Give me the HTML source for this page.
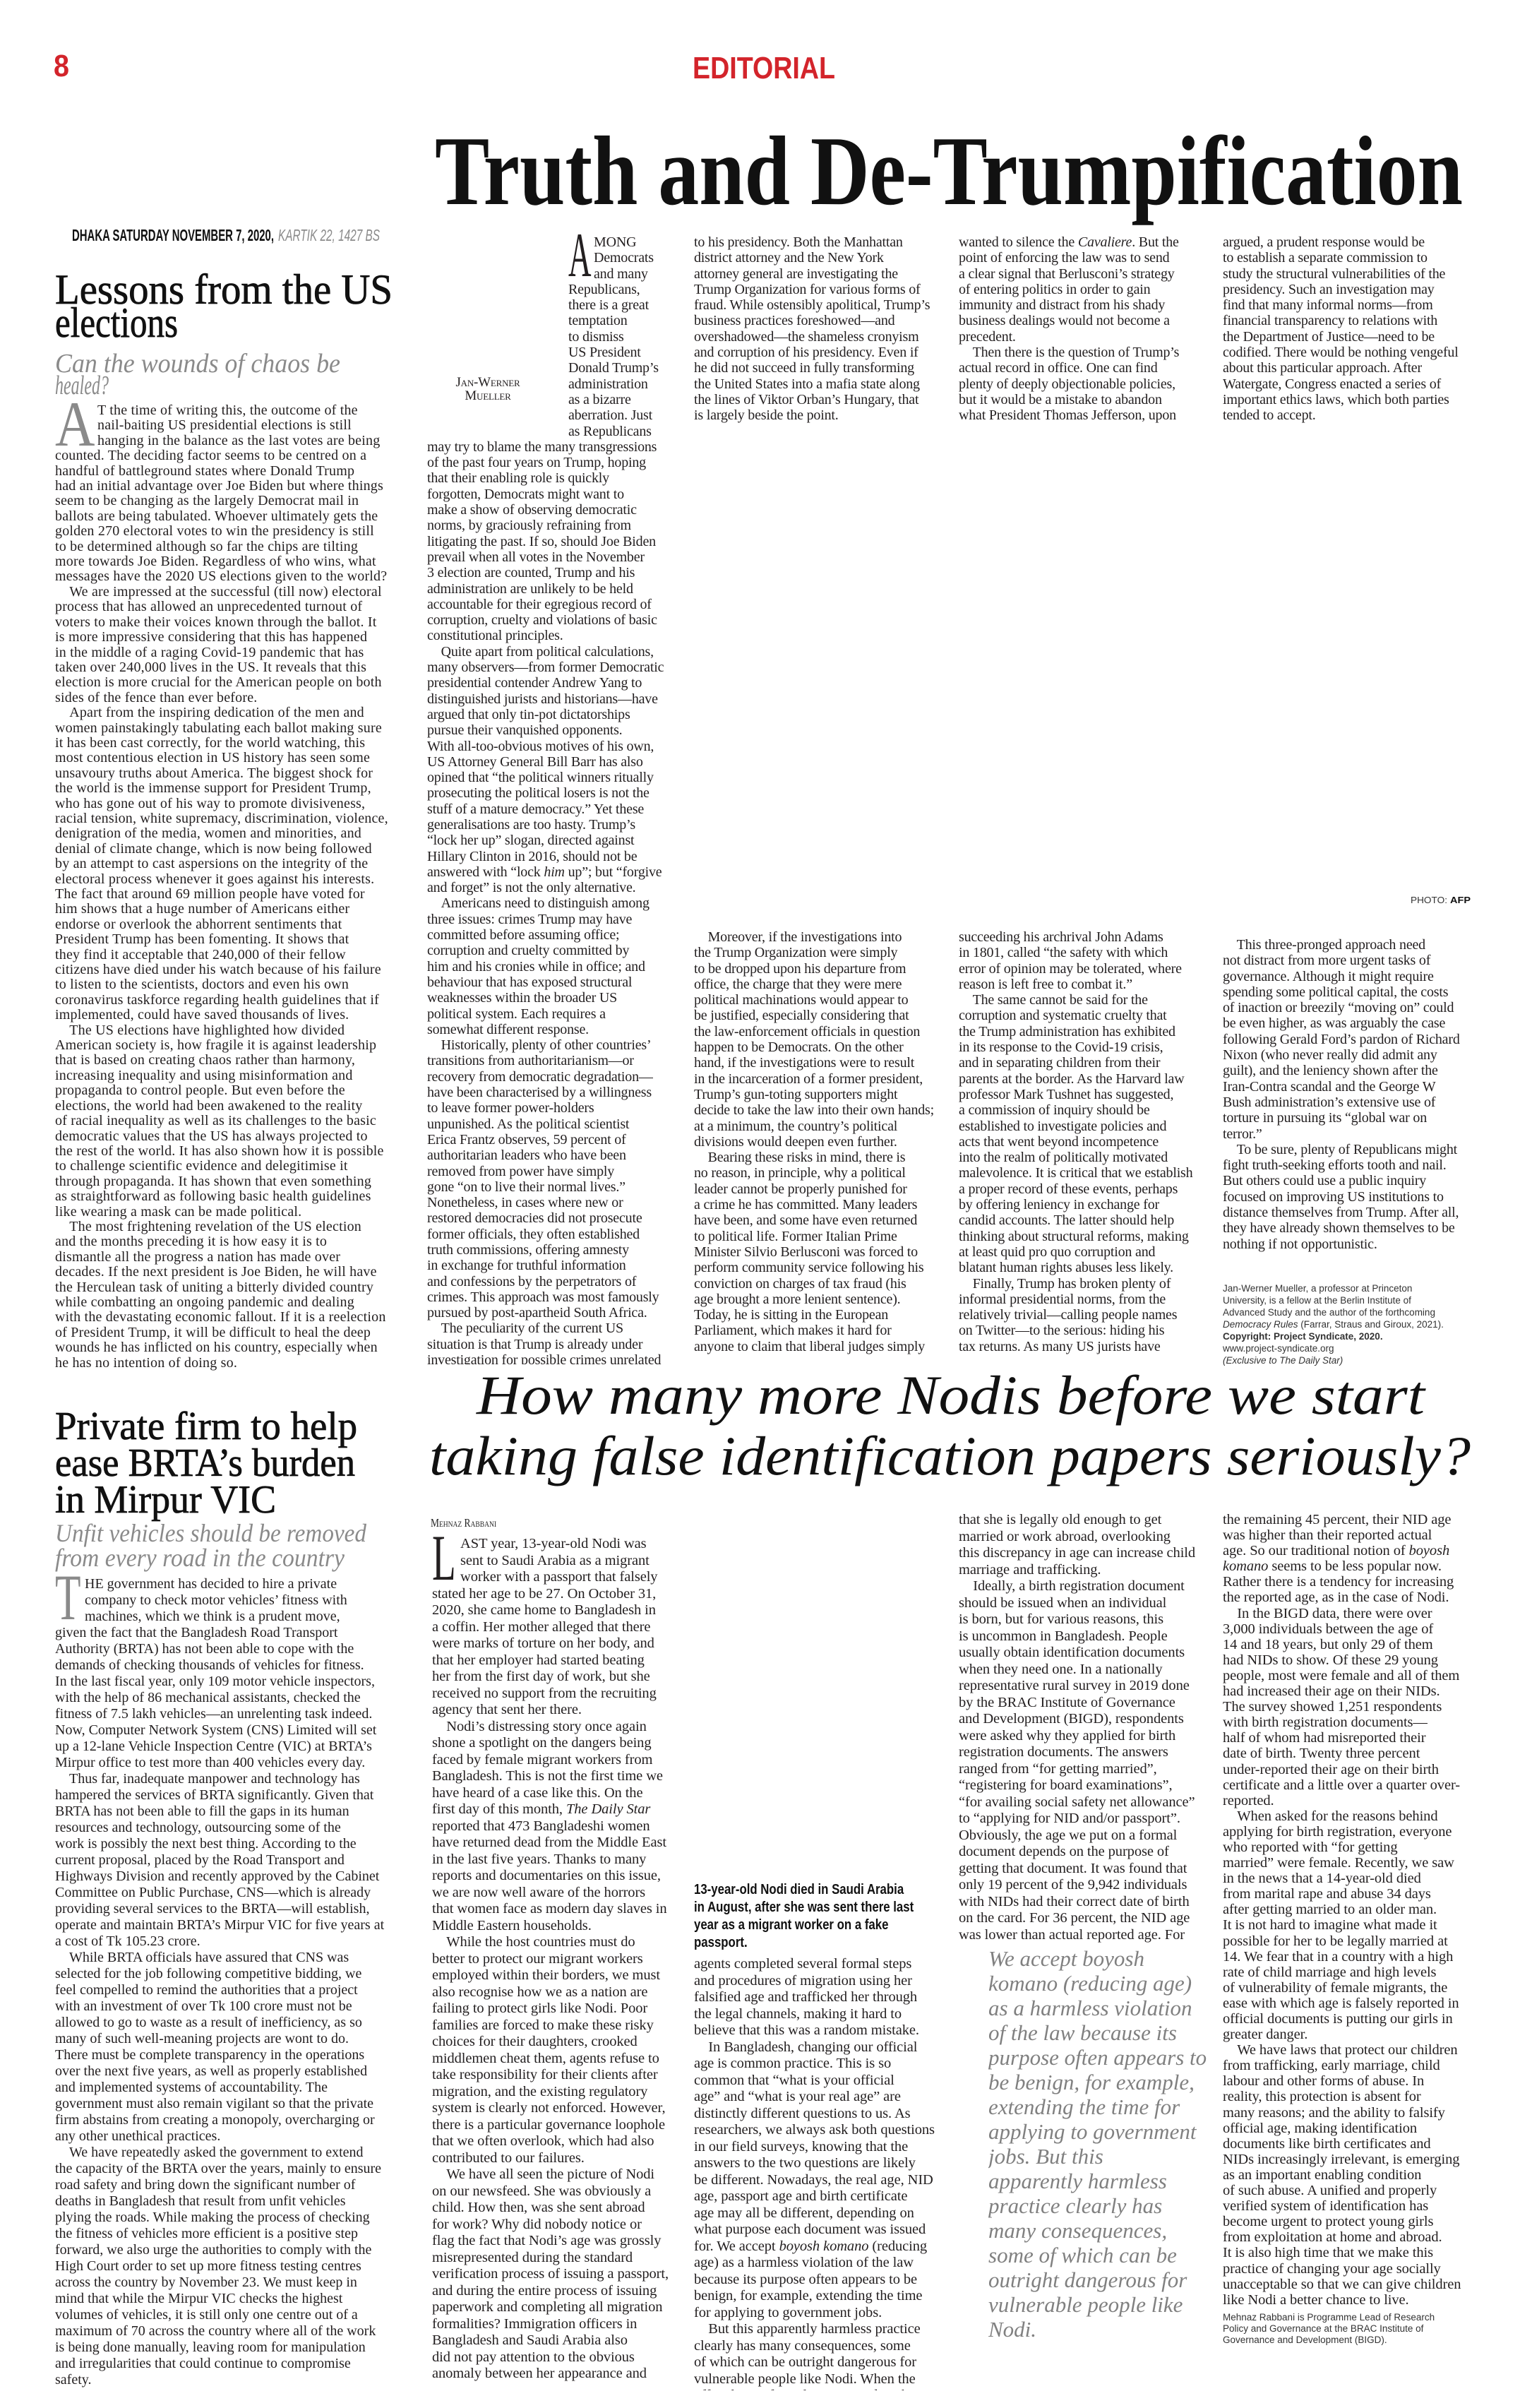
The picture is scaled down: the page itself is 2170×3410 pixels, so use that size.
<!DOCTYPE html>
<html><head><meta charset="utf-8"><style>
html,body{margin:0;padding:0;background:#fff;}
body{width:2170px;height:3410px;position:relative;overflow:hidden;}
.c{position:absolute;overflow:hidden;white-space:nowrap;font-family:"Liberation Serif",serif;font-size:20px;color:#231f20;}
.t{line-height:22.3px;letter-spacing:-0.2px;}
.n{line-height:23.5px;font-size:20.5px;letter-spacing:-0.1px;}
.l{line-height:21.4px;font-size:20px;letter-spacing:0.2px;}
.b{line-height:23px;font-size:20px;}
.sc{font-variant:small-caps;}
.dc{display:inline-block;transform-origin:0 0;}
svg{position:absolute;left:0;top:0;}
</style></head><body>
<svg width="2170" height="3410" xmlns="http://www.w3.org/2000/svg">
<text x="76" y="108" font-family="Liberation Sans,sans-serif" font-weight="bold" font-size="44" fill="#d3242b" textLength="22" lengthAdjust="spacingAndGlyphs">8</text>
<text x="981" y="111" font-family="Liberation Sans,sans-serif" font-weight="bold" font-size="44" fill="#d3242b" textLength="202" lengthAdjust="spacingAndGlyphs">EDITORIAL</text>
<text x="616" y="289" font-family="Liberation Serif,serif" font-weight="bold" font-size="140" fill="#111" textLength="1456" lengthAdjust="spacingAndGlyphs">Truth and De-Trumpification</text>
<text x="102" y="341" font-family="Liberation Sans,sans-serif" font-weight="bold" font-size="23" fill="#111" textLength="286" lengthAdjust="spacingAndGlyphs">DHAKA SATURDAY NOVEMBER 7, 2020,</text>
<text x="394" y="341" font-family="Liberation Sans,sans-serif" font-style="italic" font-size="23" fill="#8a8a8a" textLength="144" lengthAdjust="spacingAndGlyphs">KARTIK 22, 1427 BS</text>
<text x="78" y="430" font-family="Liberation Serif,serif" font-size="60" fill="#111" stroke="#111" stroke-width="0.8" textLength="478" lengthAdjust="spacingAndGlyphs">Lessons from the US</text>
<text x="78" y="477" font-family="Liberation Serif,serif" font-size="60" fill="#111" stroke="#111" stroke-width="0.8" textLength="174" lengthAdjust="spacingAndGlyphs">elections</text>
<text x="78" y="527" font-family="Liberation Serif,serif" font-style="italic" font-size="38" fill="#8a8a8a" textLength="404" lengthAdjust="spacingAndGlyphs">Can the wounds of chaos be</text>
<text x="78" y="558" font-family="Liberation Serif,serif" font-style="italic" font-size="38" fill="#8a8a8a" textLength="76" lengthAdjust="spacingAndGlyphs">healed?</text>
<text x="1998" y="1279" font-family="Liberation Sans,sans-serif" font-size="13" fill="#333" textLength="52" lengthAdjust="spacingAndGlyphs">PHOTO:</text>
<text x="2054" y="1279" font-family="Liberation Sans,sans-serif" font-weight="bold" font-size="13" fill="#111" textLength="29" lengthAdjust="spacingAndGlyphs">AFP</text>
<text x="675" y="2002" font-family="Liberation Serif,serif" font-style="italic" font-size="78" fill="#111" textLength="1343" lengthAdjust="spacingAndGlyphs">How many more Nodis before we start</text>
<text x="608" y="2088" font-family="Liberation Serif,serif" font-style="italic" font-size="78" fill="#111" textLength="1475" lengthAdjust="spacingAndGlyphs">taking false identification papers seriously?</text>
<text x="78" y="2038" font-family="Liberation Serif,serif" font-size="56" fill="#111" stroke="#111" stroke-width="0.8" textLength="428" lengthAdjust="spacingAndGlyphs">Private firm to help</text>
<text x="78" y="2090" font-family="Liberation Serif,serif" font-size="56" fill="#111" stroke="#111" stroke-width="0.8" textLength="425" lengthAdjust="spacingAndGlyphs">ease BRTA’s burden</text>
<text x="78" y="2142" font-family="Liberation Serif,serif" font-size="56" fill="#111" stroke="#111" stroke-width="0.8" textLength="313" lengthAdjust="spacingAndGlyphs">in Mirpur VIC</text>
<text x="78" y="2183" font-family="Liberation Serif,serif" font-style="italic" font-size="36" fill="#8a8a8a" textLength="441" lengthAdjust="spacingAndGlyphs">Unfit vehicles should be removed</text>
<text x="78" y="2218" font-family="Liberation Serif,serif" font-style="italic" font-size="36" fill="#8a8a8a" textLength="410" lengthAdjust="spacingAndGlyphs">from every road in the country</text>
<text x="610" y="2162" font-family="Liberation Serif,serif" font-size="17" fill="#222" textLength="93" lengthAdjust="spacingAndGlyphs" style="font-variant:small-caps">Mehnaz Rabbani</text>
</svg>

<div class="c l" style="left:78px;top:571px;width:492px;height:1380px;">
<div style="float:left;width:58px;height:64px;font-size:92px;line-height:58px;color:#8a8a8a;margin-right:2px;"><span class="dc" style="transform:scaleX(0.85)">A</span></div>T the time of writing this, the outcome of the<br>nail-baiting US presidential elections is still<br>hanging in the balance as the last votes are being<br>counted. The deciding factor seems to be centred on a<br>handful of battleground states where Donald Trump<br>had an initial advantage over Joe Biden but where things<br>seem to be changing as the largely Democrat mail in<br>ballots are being tabulated. Whoever ultimately gets the<br>golden 270 electoral votes to win the presidency is still<br>to be determined although so far the chips are tilting<br>more towards Joe Biden. Regardless of who wins, what<br>messages have the 2020 US elections given to the world?<br>&emsp;We are impressed at the successful (till now) electoral<br>process that has allowed an unprecedented turnout of<br>voters to make their voices known through the ballot. It<br>is more impressive considering that this has happened<br>in the middle of a raging Covid-19 pandemic that has<br>taken over 240,000 lives in the US. It reveals that this<br>election is more crucial for the American people on both<br>sides of the fence than ever before.<br>&emsp;Apart from the inspiring dedication of the men and<br>women painstakingly tabulating each ballot making sure<br>it has been cast correctly, for the world watching, this<br>most contentious election in US history has seen some<br>unsavoury truths about America. The biggest shock for<br>the world is the immense support for President Trump,<br>who has gone out of his way to promote divisiveness,<br>racial tension, white supremacy, discrimination, violence,<br>denigration of the media, women and minorities, and<br>denial of climate change, which is now being followed<br>by an attempt to cast aspersions on the integrity of the<br>electoral process whenever it goes against his interests.<br>The fact that around 69 million people have voted for<br>him shows that a huge number of Americans either<br>endorse or overlook the abhorrent sentiments that<br>President Trump has been fomenting. It shows that<br>they find it acceptable that 240,000 of their fellow<br>citizens have died under his watch because of his failure<br>to listen to the scientists, doctors and even his own<br>coronavirus taskforce regarding health guidelines that if<br>implemented, could have saved thousands of lives.<br>&emsp;The US elections have highlighted how divided<br>American society is, how fragile it is against leadership<br>that is based on creating chaos rather than harmony,<br>increasing inequality and using misinformation and<br>propaganda to control people. But even before the<br>elections, the world had been awakened to the reality<br>of racial inequality as well as its challenges to the basic<br>democratic values that the US has always projected to<br>the rest of the world. It has also shown how it is possible<br>to challenge scientific evidence and delegitimise it<br>through propaganda. It has shown that even something<br>as straightforward as following basic health guidelines<br>like wearing a mask can be made political.<br>&emsp;The most frightening revelation of the US election<br>and the months preceding it is how easy it is to<br>dismantle all the progress a nation has made over<br>decades. If the next president is Joe Biden, he will have<br>the Herculean task of uniting a bitterly divided country<br>while combatting an ongoing pandemic and dealing<br>with the devastating economic fallout. If it is a reelection<br>of President Trump, it will be difficult to heal the deep<br>wounds he has inflicted on his country, especially when<br>he has no intention of doing so.
</div>

<div class="c t" style="left:605px;top:332px;width:354px;height:1600px;">
<div style="float:left;width:200px;height:284px;position:relative;"><div class="sc" style="position:absolute;left:0;top:200px;width:172px;text-align:center;font-size:19px;line-height:19px;">Jan-Werner<br>Mueller</div></div><div style="float:left;width:34px;height:66px;font-size:90px;line-height:60px;margin-right:2px;"><span class="dc" style="transform:scaleX(0.5)">A</span></div>MONG<br>Democrats<br>and many<br>Republicans,<br>there is a great<br>temptation<br>to dismiss<br>US President<br>Donald Trump’s<br>administration<br>as a bizarre<br>aberration. Just<br>as Republicans<br>may try to blame the many transgressions<br>of the past four years on Trump, hoping<br>that their enabling role is quickly<br>forgotten, Democrats might want to<br>make a show of observing democratic<br>norms, by graciously refraining from<br>litigating the past. If so, should Joe Biden<br>prevail when all votes in the November<br>3 election are counted, Trump and his<br>administration are unlikely to be held<br>accountable for their egregious record of<br>corruption, cruelty and violations of basic<br>constitutional principles.<br>&ensp;&ensp;Quite apart from political calculations,<br>many observers—from former Democratic<br>presidential contender Andrew Yang to<br>distinguished jurists and historians—have<br>argued that only tin-pot dictatorships<br>pursue their vanquished opponents.<br>With all-too-obvious motives of his own,<br>US Attorney General Bill Barr has also<br>opined that “the political winners ritually<br>prosecuting the political losers is not the<br>stuff of a mature democracy.” Yet these<br>generalisations are too hasty. Trump’s<br>“lock her up” slogan, directed against<br>Hillary Clinton in 2016, should not be<br>answered with “lock <i>him</i> up”; but “forgive<br>and forget” is not the only alternative.<br>&ensp;&ensp;Americans need to distinguish among<br>three issues: crimes Trump may have<br>committed before assuming office;<br>corruption and cruelty committed by<br>him and his cronies while in office; and<br>behaviour that has exposed structural<br>weaknesses within the broader US<br>political system. Each requires a<br>somewhat different response.<br>&ensp;&ensp;Historically, plenty of other countries’<br>transitions from authoritarianism—or<br>recovery from democratic degradation—<br>have been characterised by a willingness<br>to leave former power-holders<br>unpunished. As the political scientist<br>Erica Frantz observes, 59 percent of<br>authoritarian leaders who have been<br>removed from power have simply<br>gone “on to live their normal lives.”<br>Nonetheless, in cases where new or<br>restored democracies did not prosecute<br>former officials, they often established<br>truth commissions, offering amnesty<br>in exchange for truthful information<br>and confessions by the perpetrators of<br>crimes. This approach was most famously<br>pursued by post-apartheid South Africa.<br>&ensp;&ensp;The peculiarity of the current US<br>situation is that Trump is already under<br>investigation for possible crimes unrelated
</div>

<div class="c t" style="left:983px;top:332px;width:350px;height:280px;">to his presidency. Both the Manhattan<br>district attorney and the New York<br>attorney general are investigating the<br>Trump Organization for various forms of<br>fraud. While ostensibly apolitical, Trump’s<br>business practices foreshowed—and<br>overshadowed—the shameless cronyism<br>and corruption of his presidency. Even if<br>he did not succeed in fully transforming<br>the United States into a mafia state along<br>the lines of Viktor Orban’s Hungary, that<br>is largely beside the point.</div>

<div class="c t" style="left:1358px;top:332px;width:352px;height:280px;">wanted to silence the <i>Cavaliere</i>. But the<br>point of enforcing the law was to send<br>a clear signal that Berlusconi’s strategy<br>of entering politics in order to gain<br>immunity and distract from his shady<br>business dealings would not become a<br>precedent.<br>&ensp;&ensp;Then there is the question of Trump’s<br>actual record in office. One can find<br>plenty of deeply objectionable policies,<br>but it would be a mistake to abandon<br>what President Thomas Jefferson, upon</div>

<div class="c t" style="left:1732px;top:332px;width:352px;height:280px;">argued, a prudent response would be<br>to establish a separate commission to<br>study the structural vulnerabilities of the<br>presidency. Such an investigation may<br>find that many informal norms—from<br>financial transparency to relations with<br>the Department of Justice—need to be<br>codified. There would be nothing vengeful<br>about this particular approach. After<br>Watergate, Congress enacted a series of<br>important ethics laws, which both parties<br>tended to accept.</div>

<div class="c t" style="left:983px;top:1316px;width:350px;height:616px;">&ensp;&ensp;Moreover, if the investigations into<br>the Trump Organization were simply<br>to be dropped upon his departure from<br>office, the charge that they were mere<br>political machinations would appear to<br>be justified, especially considering that<br>the law-enforcement officials in question<br>happen to be Democrats. On the other<br>hand, if the investigations were to result<br>in the incarceration of a former president,<br>Trump’s gun-toting supporters might<br>decide to take the law into their own hands;<br>at a minimum, the country’s political<br>divisions would deepen even further.<br>&ensp;&ensp;Bearing these risks in mind, there is<br>no reason, in principle, why a political<br>leader cannot be properly punished for<br>a crime he has committed. Many leaders<br>have been, and some have even returned<br>to political life. Former Italian Prime<br>Minister Silvio Berlusconi was forced to<br>perform community service following his<br>conviction on charges of tax fraud (his<br>age brought a more lenient sentence).<br>Today, he is sitting in the European<br>Parliament, which makes it hard for<br>anyone to claim that liberal judges simply</div>

<div class="c t" style="left:1358px;top:1316px;width:352px;height:616px;">succeeding his archrival John Adams<br>in 1801, called “the safety with which<br>error of opinion may be tolerated, where<br>reason is left free to combat it.”<br>&ensp;&ensp;The same cannot be said for the<br>corruption and systematic cruelty that<br>the Trump administration has exhibited<br>in its response to the Covid-19 crisis,<br>and in separating children from their<br>parents at the border. As the Harvard law<br>professor Mark Tushnet has suggested,<br>a commission of inquiry should be<br>established to investigate policies and<br>acts that went beyond incompetence<br>into the realm of politically motivated<br>malevolence. It is critical that we establish<br>a proper record of these events, perhaps<br>by offering leniency in exchange for<br>candid accounts. The latter should help<br>thinking about structural reforms, making<br>at least quid pro quo corruption and<br>blatant human rights abuses less likely.<br>&ensp;&ensp;Finally, Trump has broken plenty of<br>informal presidential norms, from the<br>relatively trivial—calling people names<br>on Twitter—to the serious: hiding his<br>tax returns. As many US jurists have</div>

<div class="c t" style="left:1732px;top:1327px;width:352px;height:460px;">&ensp;&ensp;This three-pronged approach need<br>not distract from more urgent tasks of<br>governance. Although it might require<br>spending some political capital, the costs<br>of inaction or breezily “moving on” could<br>be even higher, as was arguably the case<br>following Gerald Ford’s pardon of Richard<br>Nixon (who never really did admit any<br>guilt), and the leniency shown after the<br>Iran-Contra scandal and the George W<br>Bush administration’s extensive use of<br>torture in pursuing its “global war on<br>terror.”<br>&ensp;&ensp;To be sure, plenty of Republicans might<br>fight truth-seeking efforts tooth and nail.<br>But others could use a public inquiry<br>focused on improving US institutions to<br>distance themselves from Trump. After all,<br>they have already shown themselves to be<br>nothing if not opportunistic.</div>

<div class="c" style="left:1732px;top:1816px;width:352px;height:125px;font-family:'Liberation Sans',sans-serif;font-size:13.5px;line-height:17px;color:#333;">Jan-Werner Mueller, a professor at Princeton<br>University, is a fellow at the Berlin Institute of<br>Advanced Study and the author of the forthcoming<br><i>Democracy Rules</i> (Farrar, Straus and Giroux, 2021).<br><b>Copyright: Project Syndicate, 2020.</b><br>www.project-syndicate.org<br><i>(Exclusive to The Daily Star)</i></div>

<div class="c b" style="left:78px;top:2232px;width:492px;height:1160px;">
<div style="float:left;width:40px;height:68px;font-size:92px;line-height:60px;color:#8a8a8a;margin-right:2px;"><span class="dc" style="transform:scaleX(0.65)">T</span></div>HE government has decided to hire a private<br>company to check motor vehicles’ fitness with<br>machines, which we think is a prudent move,<br>given the fact that the Bangladesh Road Transport<br>Authority (BRTA) has not been able to cope with the<br>demands of checking thousands of vehicles for fitness.<br>In the last fiscal year, only 109 motor vehicle inspectors,<br>with the help of 86 mechanical assistants, checked the<br>fitness of 7.5 lakh vehicles—an unrelenting task indeed.<br>Now, Computer Network System (CNS) Limited will set<br>up a 12-lane Vehicle Inspection Centre (VIC) at BRTA’s<br>Mirpur office to test more than 400 vehicles every day.<br>&emsp;Thus far, inadequate manpower and technology has<br>hampered the services of BRTA significantly. Given that<br>BRTA has not been able to fill the gaps in its human<br>resources and technology, outsourcing some of the<br>work is possibly the next best thing. According to the<br>current proposal, placed by the Road Transport and<br>Highways Division and recently approved by the Cabinet<br>Committee on Public Purchase, CNS—which is already<br>providing several services to the BRTA—will establish,<br>operate and maintain BRTA’s Mirpur VIC for five years at<br>a cost of Tk 105.23 crore.<br>&emsp;While BRTA officials have assured that CNS was<br>selected for the job following competitive bidding, we<br>feel compelled to remind the authorities that a project<br>with an investment of over Tk 100 crore must not be<br>allowed to go to waste as a result of inefficiency, as so<br>many of such well-meaning projects are wont to do.<br>There must be complete transparency in the operations<br>over the next five years, as well as properly established<br>and implemented systems of accountability. The<br>government must also remain vigilant so that the private<br>firm abstains from creating a monopoly, overcharging or<br>any other unethical practices.<br>&emsp;We have repeatedly asked the government to extend<br>the capacity of the BRTA over the years, mainly to ensure<br>road safety and bring down the significant number of<br>deaths in Bangladesh that result from unfit vehicles<br>plying the roads. While making the process of checking<br>the fitness of vehicles more efficient is a positive step<br>forward, we also urge the authorities to comply with the<br>High Court order to set up more fitness testing centres<br>across the country by November 23. We must keep in<br>mind that while the Mirpur VIC checks the highest<br>volumes of vehicles, it is still only one centre out of a<br>maximum of 70 across the country where all of the work<br>is being done manually, leaving room for manipulation<br>and irregularities that could continue to compromise<br>safety.
</div>

<div class="c n" style="left:612px;top:2175px;width:348px;height:1200px;">
<div style="float:left;width:38px;height:68px;font-size:92px;line-height:62px;margin-right:2px;"><span class="dc" style="transform:scaleX(0.6)">L</span></div>AST year, 13-year-old Nodi was<br>sent to Saudi Arabia as a migrant<br>worker with a passport that falsely<br>stated her age to be 27. On October 31,<br>2020, she came home to Bangladesh in<br>a coffin. Her mother alleged that there<br>were marks of torture on her body, and<br>that her employer had started beating<br>her from the first day of work, but she<br>received no support from the recruiting<br>agency that sent her there.<br>&ensp;&ensp;Nodi’s distressing story once again<br>shone a spotlight on the dangers being<br>faced by female migrant workers from<br>Bangladesh. This is not the first time we<br>have heard of a case like this. On the<br>first day of this month, <i>The Daily Star</i><br>reported that 473 Bangladeshi women<br>have returned dead from the Middle East<br>in the last five years. Thanks to many<br>reports and documentaries on this issue,<br>we are now well aware of the horrors<br>that women face as modern day slaves in<br>Middle Eastern households.<br>&ensp;&ensp;While the host countries must do<br>better to protect our migrant workers<br>employed within their borders, we must<br>also recognise how we as a nation are<br>failing to protect girls like Nodi. Poor<br>families are forced to make these risky<br>choices for their daughters, crooked<br>middlemen cheat them, agents refuse to<br>take responsibility for their clients after<br>migration, and the existing regulatory<br>system is clearly not enforced. However,<br>there is a particular governance loophole<br>that we often overlook, which had also<br>contributed to our failures.<br>&ensp;&ensp;We have all seen the picture of Nodi<br>on our newsfeed. She was obviously a<br>child. How then, was she sent abroad<br>for work? Why did nobody notice or<br>flag the fact that Nodi’s age was grossly<br>misrepresented during the standard<br>verification process of issuing a passport,<br>and during the entire process of issuing<br>paperwork and completing all migration<br>formalities? Immigration officers in<br>Bangladesh and Saudi Arabia also<br>did not pay attention to the obvious<br>anomaly between her appearance and<br>her age as written on the passport. Nodi’s
</div>

<div style="position:absolute;left:983px;top:2664px;width:350px;height:100px;overflow:hidden;">
<div style="transform:scaleX(0.84);transform-origin:0 0;width:417px;white-space:nowrap;font-family:'Liberation Sans',sans-serif;font-weight:bold;font-size:20px;line-height:25px;color:#111;">13-year-old Nodi died in Saudi Arabia<br>in August, after she was sent there last<br>year as a migrant worker on a fake<br>passport.</div></div>

<div class="c n" style="left:983px;top:2770px;width:350px;height:615px;">agents completed several formal steps<br>and procedures of migration using her<br>falsified age and trafficked her through<br>the legal channels, making it hard to<br>believe that this was a random mistake.<br>&ensp;&ensp;In Bangladesh, changing our official<br>age is common practice. This is so<br>common that “what is your official<br>age” and “what is your real age” are<br>distinctly different questions to us. As<br>researchers, we always ask both questions<br>in our field surveys, knowing that the<br>answers to the two questions are likely<br>be different. Nowadays, the real age, NID<br>age, passport age and birth certificate<br>age may all be different, depending on<br>what purpose each document was issued<br>for. We accept <i>boyosh komano</i> (reducing<br>age) as a harmless violation of the law<br>because its purpose often appears to be<br>benign, for example, extending the time<br>for applying to government jobs.<br>&ensp;&ensp;But this apparently harmless practice<br>clearly has many consequences, some<br>of which can be outright dangerous for<br>vulnerable people like Nodi. When the<br>official age of a girl is increased to show</div>

<div class="c n" style="left:1358px;top:2141px;width:352px;height:612px;">that she is legally old enough to get<br>married or work abroad, overlooking<br>this discrepancy in age can increase child<br>marriage and trafficking.<br>&ensp;&ensp;Ideally, a birth registration document<br>should be issued when an individual<br>is born, but for various reasons, this<br>is uncommon in Bangladesh. People<br>usually obtain identification documents<br>when they need one. In a nationally<br>representative rural survey in 2019 done<br>by the BRAC Institute of Governance<br>and Development (BIGD), respondents<br>were asked why they applied for birth<br>registration documents. The answers<br>ranged from “for getting married”,<br>“registering for board examinations”,<br>“for availing social safety net allowance”<br>to “applying for NID and/or passport”.<br>Obviously, the age we put on a formal<br>document depends on the purpose of<br>getting that document. It was found that<br>only 19 percent of the 9,942 individuals<br>with NIDs had their correct date of birth<br>on the card. For 36 percent, the NID age<br>was lower than actual reported age. For</div>

<div class="c" style="left:1400px;top:2756px;width:320px;height:570px;font-style:italic;font-size:31px;line-height:35px;color:#808080;">We accept boyosh<br>komano (reducing age)<br>as a harmless violation<br>of the law because its<br>purpose often appears to<br>be benign, for example,<br>extending the time for<br>applying to government<br>jobs. But this<br>apparently harmless<br>practice clearly has<br>many consequences,<br>some of which can be<br>outright dangerous for<br>vulnerable people like<br>Nodi.</div>

<div class="c n" style="left:1732px;top:2141px;width:352px;height:1126px;line-height:22.1px;">the remaining 45 percent, their NID age<br>was higher than their reported actual<br>age. So our traditional notion of <i>boyosh</i><br><i>komano</i> seems to be less popular now.<br>Rather there is a tendency for increasing<br>the reported age, as in the case of Nodi.<br>&ensp;&ensp;In the BIGD data, there were over<br>3,000 individuals between the age of<br>14 and 18 years, but only 29 of them<br>had NIDs to show. Of these 29 young<br>people, most were female and all of them<br>had increased their age on their NIDs.<br>The survey showed 1,251 respondents<br>with birth registration documents—<br>half of whom had misreported their<br>date of birth. Twenty three percent<br>under-reported their age on their birth<br>certificate and a little over a quarter over-<br>reported.<br>&ensp;&ensp;When asked for the reasons behind<br>applying for birth registration, everyone<br>who reported with “for getting<br>married” were female. Recently, we saw<br>in the news that a 14-year-old died<br>from marital rape and abuse 34 days<br>after getting married to an older man.<br>It is not hard to imagine what made it<br>possible for her to be legally married at<br>14. We fear that in a country with a high<br>rate of child marriage and high levels<br>of vulnerability of female migrants, the<br>ease with which age is falsely reported in<br>official documents is putting our girls in<br>greater danger.<br>&ensp;&ensp;We have laws that protect our children<br>from trafficking, early marriage, child<br>labour and other forms of abuse. In<br>reality, this protection is absent for<br>many reasons; and the ability to falsify<br>official age, making identification<br>documents like birth certificates and<br>NIDs increasingly irrelevant, is emerging<br>as an important enabling condition<br>of such abuse. A unified and properly<br>verified system of identification has<br>become urgent to protect young girls<br>from exploitation at home and abroad.<br>It is also high time that we make this<br>practice of changing your age socially<br>unacceptable so that we can give children<br>like Nodi a better chance to live.</div>

<div class="c" style="left:1732px;top:3274px;width:352px;height:55px;font-family:'Liberation Sans',sans-serif;font-size:13.5px;line-height:16px;color:#333;">Mehnaz Rabbani is Programme Lead of Research<br>Policy and Governance at the BRAC Institute of<br>Governance and Development (BIGD).</div>
</body></html>
